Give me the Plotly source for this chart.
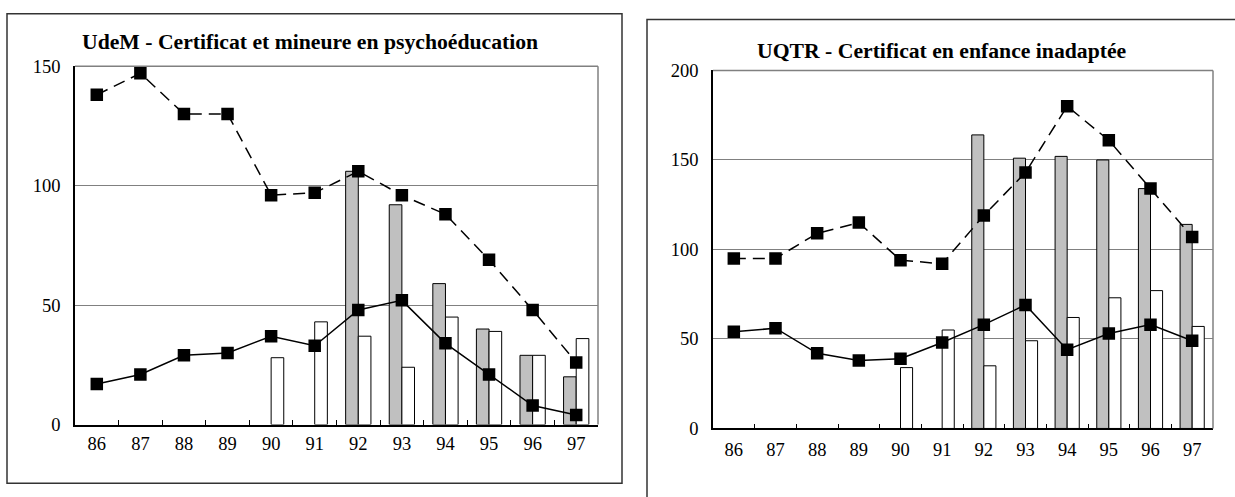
import plotly.graph_objects as go

years = ["86", "87", "88", "89", "90", "91", "92", "93", "94", "95", "96", "97"]

udem_title = "UdeM - Certificat et mineure en psychoéducation"
udem_dashed = [138, 147, 130, 130, 96, 97, 106, 96, 88, 69, 48, 26]
udem_solid = [17, 21, 29, 30, 37, 33, 48, 52, 34, 21, 8, 4]
udem_gray = [None, None, None, None, None, None, 106, 92, 59, 40, 29, 20]
udem_white = [None, None, None, None, 28, 43, 37, 24, 45, 39, 29, 36]
udem_yticks = [0, 50, 100, 150]

uqtr_title = "UQTR - Certificat en enfance inadaptée"
uqtr_dashed = [95, 95, 109, 115, 94, 92, 119, 143, 180, 161, 134, 107]
uqtr_solid = [54, 56, 42, 38, 39, 48, 58, 69, 44, 53, 58, 49]
uqtr_gray = [None, None, None, None, None, None, 164, 151, 152, 150, 134, 114]
uqtr_white = [None, None, None, None, 34, 55, 35, 49, 62, 73, 77, 57]
uqtr_yticks = [0, 50, 100, 150, 200]

W, H = 1235, 497
FONT = "'Liberation Serif', 'Times New Roman', serif"


def px_x(p):
    return p / W


def px_y(p):
    return 1 - p / H


fig = go.Figure()


def add_panel(fig, xref, yref, gray, white, dashed, solid):
    fig.add_trace(go.Bar(x=years, y=gray, xaxis=xref, yaxis=yref,
                         marker=dict(color="#c0c0c0", line=dict(color="black", width=1)),
                         showlegend=False, offsetgroup="a"))
    fig.add_trace(go.Bar(x=years, y=white, xaxis=xref, yaxis=yref,
                         marker=dict(color="white", line=dict(color="black", width=1)),
                         showlegend=False, offsetgroup="b"))
    fig.add_trace(go.Scatter(x=years, y=dashed, xaxis=xref, yaxis=yref, mode="lines+markers",
                             line=dict(color="black", width=1.5, dash="12px,7px"),
                             marker=dict(symbol="square", size=12.5, color="black"),
                             showlegend=False))
    fig.add_trace(go.Scatter(x=years, y=solid, xaxis=xref, yaxis=yref, mode="lines+markers",
                             line=dict(color="black", width=1.5),
                             marker=dict(symbol="square", size=12.5, color="black"),
                             showlegend=False))


add_panel(fig, "x", "y", udem_gray, udem_white, udem_dashed, udem_solid)
add_panel(fig, "x2", "y2", uqtr_gray, uqtr_white, uqtr_dashed, uqtr_solid)

xcommon = dict(type="category", categoryorder="array", categoryarray=years,
               range=[-0.5, len(years) - 0.5],
               showline=True, linecolor="black", linewidth=1.5,
               ticks="inside", tickson="boundaries", ticklen=5, tickcolor="black",
               showgrid=False, zeroline=False,
               tickfont=dict(family=FONT, size=18.5, color="black"))
ycommon = dict(showline=True, linecolor="black", linewidth=1.5, ticks="",
               showgrid=True, gridcolor="#808080", gridwidth=1, zeroline=False,
               ticklabelstandoff=9,
               tickfont=dict(family=FONT, size=18.5, color="black"))

fig.update_layout(
    width=W, height=H,
    margin=dict(l=0, r=0, t=0, b=0),
    paper_bgcolor="white", plot_bgcolor="white",
    barmode="group", bargap=0.42, bargroupgap=0,
    xaxis=dict(domain=[px_x(75), px_x(598)], anchor="y", ticklabelstandoff=1, **xcommon),
    yaxis=dict(domain=[px_y(432), px_y(58.5)], anchor="x", range=[0, 150],
               tickvals=udem_yticks, **ycommon),
    xaxis2=dict(domain=[px_x(713), px_x(1213)], anchor="y2", ticklabelstandoff=4, **xcommon),
    yaxis2=dict(domain=[px_y(436), px_y(63)], anchor="x2", range=[0, 200],
                tickvals=uqtr_yticks, **ycommon),
)

shapes = []
for xr, yr in (("x domain", "y domain"), ("x2 domain", "y2 domain")):
    shapes.append(dict(type="line", xref=xr, yref=yr, x0=0, x1=1, y0=1, y1=1,
                       line=dict(color="#808080", width=1.5)))
    shapes.append(dict(type="line", xref=xr, yref=yr, x0=1, x1=1, y0=0, y1=1,
                       line=dict(color="#808080", width=1.5)))
shapes.append(dict(type="rect", xref="paper", yref="paper",
                   x0=px_x(7), x1=px_x(622), y0=px_y(493), y1=px_y(4),
                   line=dict(color="#333333", width=1.5), layer="below"))
shapes.append(dict(type="rect", xref="paper", yref="paper",
                   x0=px_x(647), x1=px_x(1245), y0=px_y(510), y1=px_y(10),
                   line=dict(color="#333333", width=1.5), layer="below"))
fig.update_layout(shapes=shapes)

fig.add_annotation(text="<b>" + udem_title + "</b>", xref="paper", yref="paper",
                   x=px_x(310), y=px_y(33), xanchor="center", yanchor="middle",
                   showarrow=False, font=dict(family=FONT, size=21.7, color="black"))
fig.add_annotation(text="<b>" + uqtr_title + "</b>", xref="paper", yref="paper",
                   x=px_x(942), y=px_y(43), xanchor="center", yanchor="middle",
                   showarrow=False, font=dict(family=FONT, size=21.7, color="black"))

fig.write_html("out.html", config={"displayModeBar": False},
               post_script="document.body.style.margin='0';document.body.style.overflow='hidden';")
